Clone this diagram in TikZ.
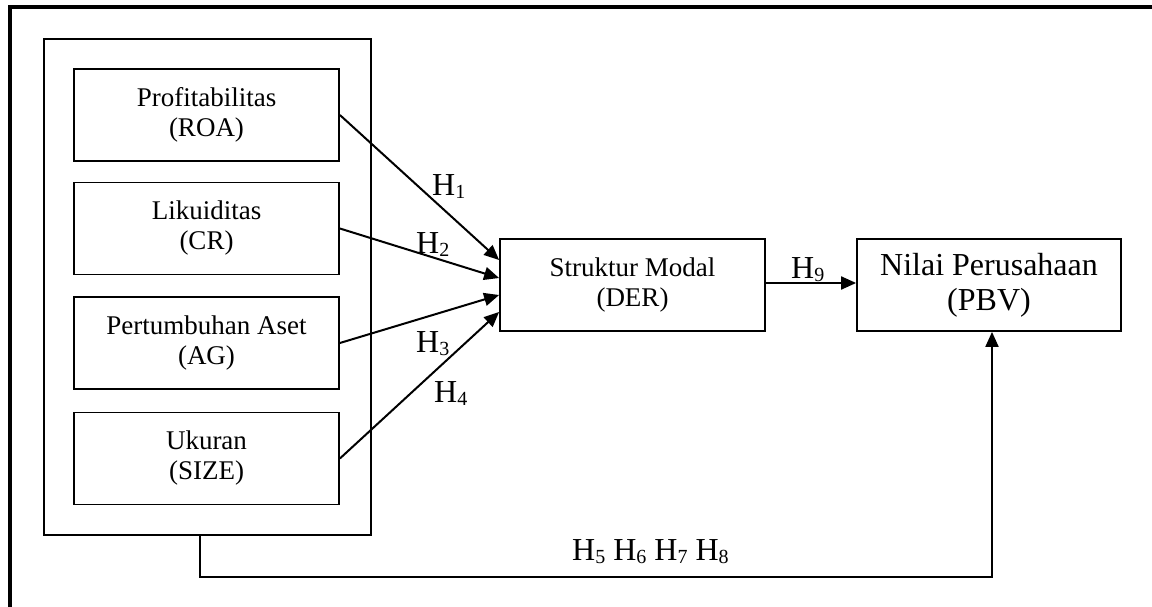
\documentclass[tikz,border=0pt]{standalone}
\usepackage{fontspec}
\setmainfont{Liberation Serif}
\usetikzlibrary{arrows.meta}
\newcommand{\Hs}[1]{H\raisebox{-3pt}{\fontsize{20}{20}\selectfont #1}}
\begin{document}
\begin{tikzpicture}[x=1pt,y=-1pt,
  varbox/.style={draw, line width=1.8pt, minimum width=265pt, minimum height=92pt,
    inner sep=0pt, align=center, font=\fontsize{27}{30}\selectfont},
  bigbox/.style={varbox, minimum width=264pt, font=\fontsize{32}{35}\selectfont},
  grpbox/.style={draw, line width=1.8pt, minimum width=327pt, minimum height=496pt, inner sep=0pt},
  conn/.style={line width=2pt, -{Triangle[length=15pt,width=13pt]}},
  hlab/.style={anchor=base west, inner sep=0pt, font=\fontsize{32}{32}\selectfont}]
\useasboundingbox (0,0) rectangle (1152,607);
\fill[white] (0,0) rectangle (1152,607);
% outer frame (only top and left edges visible)
\draw[line width=3.5pt] (1152,7) -- (10,7) -- (10,607);
% group box
\node[grpbox] (grp) at (207.5,287) {};
\node[varbox] (roa) at (206.5,115) {Profitabilitas\\(ROA)};
\node[varbox] (cr) at (206.5,228.5) {Likuiditas\\(CR)};
\node[varbox] (ag) at (206.5,343) {Pertumbuhan Aset\\(AG)};
\node[varbox] (size) at (206.5,458.5) {Ukuran\\(SIZE)};
\node[varbox] (der) at (632.5,285) {Struktur Modal\\(DER)};
\node[bigbox] (pbv) at (989,285) {Nilai Perusahaan\\(PBV)};
% arrows
\draw[conn] (roa.east) -- ([yshift=25pt]der.west);
\draw[conn] (cr.east) -- ([yshift=7pt]der.west);
\draw[conn] (ag.east) -- ([yshift=-10pt]der.west);
\draw[conn] (size.east) -- ([yshift=-27pt]der.west);
\draw[conn] ([yshift=2pt]der.east) -- ([yshift=2pt]pbv.west);
\draw[conn] ([xshift=-8pt]grp.south) -- ++(0,41) -| ([xshift=3pt]pbv.south);
% labels
\node[hlab] (h1) at (432,196) {\Hs{1}};
\node[hlab] (h2) at (416,253) {\Hs{2}};
\node[hlab] (h3) at (416,352) {\Hs{3}};
\node[hlab] (h4) at (434,402) {\Hs{4}};
\node[hlab] (h9) at (791,278) {\Hs{9}};
\node[hlab] (h58) at (572,560) {\Hs{5} \Hs{6} \Hs{7} \Hs{8}};
\end{tikzpicture}
\end{document}
